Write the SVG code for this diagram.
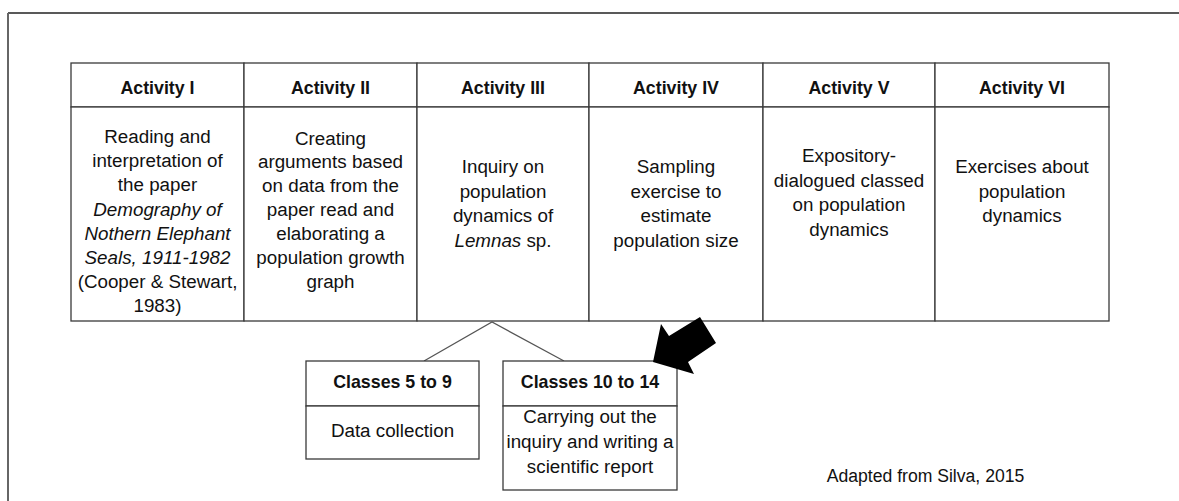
<svg xmlns="http://www.w3.org/2000/svg" width="1179" height="501" viewBox="0 0 1179 501">
<style>
  .cell { fill: #ffffff; stroke: #3a3a3a; stroke-width: 1.3; }
  .hd { font-family: "Liberation Sans", Arial, sans-serif; font-weight: bold; font-size: 17.8px; fill: #111; text-anchor: middle; }
  .tx { font-family: "Liberation Sans", Arial, sans-serif; font-size: 18.8px; fill: #111; text-anchor: middle; }
  .it { font-style: italic; }
  .conn { stroke: #555; stroke-width: 1.3; fill: none; }
  .note { font-family: "Liberation Sans", Arial, sans-serif; font-size: 17.6px; fill: #111; text-anchor: middle; }
</style>
<rect x="0" y="0" width="1179" height="501" fill="#ffffff"/>
<g id="frame">
  <line x1="8" y1="13" x2="1179" y2="13" stroke="#222" stroke-width="1.5"/>
  <line x1="8" y1="13" x2="8" y2="501" stroke="#666" stroke-width="2"/>
</g>

<g id="activity-1">
  <rect class="cell" x="71" y="63" width="173" height="44"/>
  <rect class="cell" x="71" y="107" width="173" height="214"/>
  <text class="hd" x="157.5" y="94">Activity I</text>
  <text class="tx" x="157.5" y="143">Reading and</text>
  <text class="tx" x="157.5" y="167">interpretation of</text>
  <text class="tx" x="157.5" y="191">the paper</text>
  <text class="tx it" x="157.5" y="215.5">Demography of</text>
  <text class="tx it" x="157.5" y="240">Nothern Elephant</text>
  <text class="tx it" x="157.5" y="264">Seals, 1911-1982</text>
  <text class="tx" x="157.5" y="288">(Cooper &amp; Stewart,</text>
  <text class="tx" x="157.5" y="312">1983)</text>
</g>

<g id="activity-2">
  <rect class="cell" x="244" y="63" width="173" height="44"/>
  <rect class="cell" x="244" y="107" width="173" height="214"/>
  <text class="hd" x="330.5" y="94">Activity  II</text>
  <text class="tx" x="330.5" y="145">Creating</text>
  <text class="tx" x="330.5" y="168">arguments based</text>
  <text class="tx" x="330.5" y="192">on data from the</text>
  <text class="tx" x="330.5" y="216">paper read and</text>
  <text class="tx" x="330.5" y="240">elaborating a</text>
  <text class="tx" x="330.5" y="264">population growth</text>
  <text class="tx" x="330.5" y="288">graph</text>
</g>

<g id="activity-3">
  <rect class="cell" x="417" y="63" width="172" height="44"/>
  <rect class="cell" x="417" y="107" width="172" height="214"/>
  <text class="hd" x="503" y="94">Activity III</text>
  <text class="tx" x="503" y="173">Inquiry on</text>
  <text class="tx" x="503" y="197.5">population</text>
  <text class="tx" x="503" y="222">dynamics of</text>
  <text class="tx" x="503" y="246.5"><tspan class="it">Lemnas</tspan> sp.</text>
</g>

<g id="activity-4">
  <rect class="cell" x="589" y="63" width="174" height="44"/>
  <rect class="cell" x="589" y="107" width="174" height="214"/>
  <text class="hd" x="676" y="94">Activity IV</text>
  <text class="tx" x="676" y="173">Sampling</text>
  <text class="tx" x="676" y="197.5">exercise to</text>
  <text class="tx" x="676" y="222">estimate</text>
  <text class="tx" x="676" y="246.5">population size</text>
</g>

<g id="activity-5">
  <rect class="cell" x="763" y="63" width="172" height="44"/>
  <rect class="cell" x="763" y="107" width="172" height="214"/>
  <text class="hd" x="849" y="94">Activity V</text>
  <text class="tx" x="849" y="162">Expository-</text>
  <text class="tx" x="849" y="186.5">dialogued classed</text>
  <text class="tx" x="849" y="211">on population</text>
  <text class="tx" x="849" y="235.5">dynamics</text>
</g>

<g id="activity-6">
  <rect class="cell" x="935" y="63" width="174" height="44"/>
  <rect class="cell" x="935" y="107" width="174" height="214"/>
  <text class="hd" x="1022" y="94">Activity VI</text>
  <text class="tx" x="1022" y="173">Exercises about</text>
  <text class="tx" x="1022" y="197.5">population</text>
  <text class="tx" x="1022" y="222">dynamics</text>
</g>

<g id="connectors">
  <polyline class="conn" points="424,361 492,322 564,361"/>
</g>

<g id="classes-5-9">
  <rect class="cell" x="306" y="361" width="173" height="45"/>
  <rect class="cell" x="306" y="406" width="173" height="53"/>
  <text class="hd" x="392.5" y="388">Classes 5 to 9</text>
  <text class="tx" x="392.5" y="437">Data collection</text>
</g>

<g id="classes-10-14">
  <rect class="cell" x="503" y="361" width="174" height="45"/>
  <rect class="cell" x="503" y="406" width="174" height="84"/>
  <text class="hd" x="590" y="388">Classes 10 to 14</text>
  <text class="tx" x="590" y="423">Carrying out the</text>
  <text class="tx" x="590" y="448">inquiry and writing a</text>
  <text class="tx" x="590" y="473">scientific report</text>
</g>

<g id="highlight-arrow">
  <polygon points="653,362 661,324 669,336 700,317 716,343 688,362 694,374" fill="#000"/>
</g>

<g id="source-note">
  <text class="note" x="925.5" y="482">Adapted from Silva, 2015</text>
</g>
</svg>
